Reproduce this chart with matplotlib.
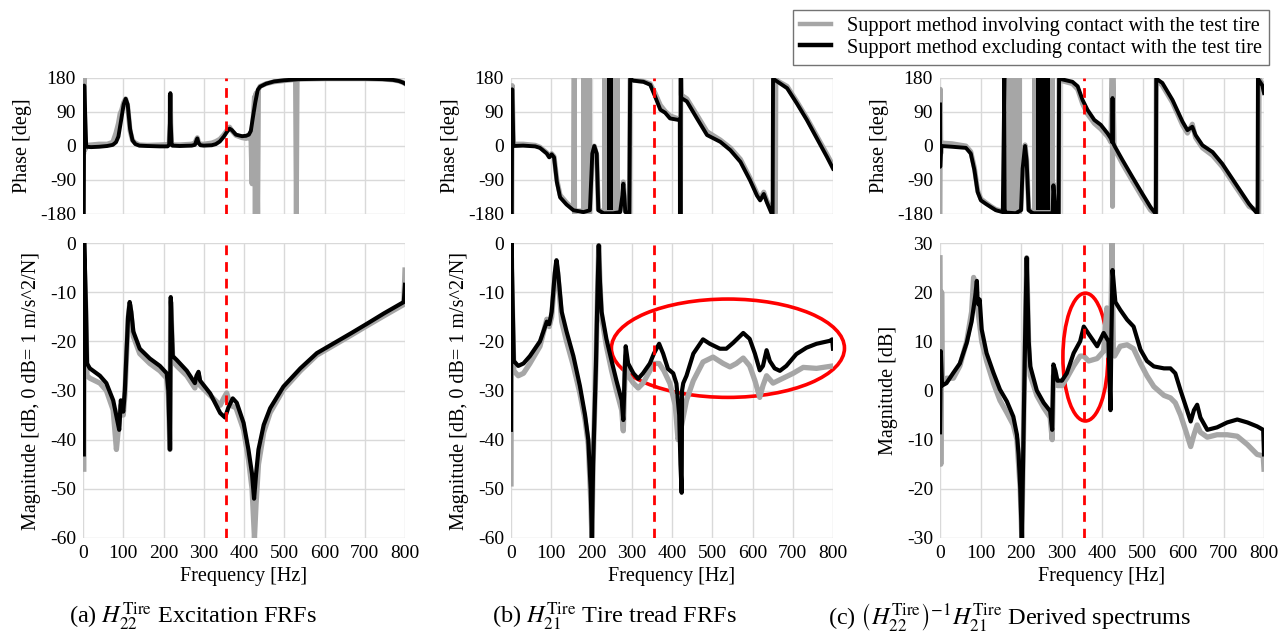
import matplotlib
matplotlib.use("Agg")
import matplotlib.pyplot as plt
from matplotlib.patches import Ellipse
from matplotlib.lines import Line2D

plt.rcParams['font.family'] = ['Liberation Serif', 'DejaVu Serif']
plt.rcParams['mathtext.fontset'] = 'stix'
plt.rcParams['axes.unicode_minus'] = False

# ---------------- (a) H22 excitation FRFs ----------------
a_phase_f_black = [0, 2, 3, 8, 20, 40, 60, 74, 82, 88, 95, 101, 106, 111, 117, 123, 130, 140, 160, 190,
                   210, 214, 216, 217, 218, 220, 222, 240, 270, 278, 282, 284, 287, 292, 300, 320, 330,
                   340, 350, 358, 364, 370, 380, 395, 405, 412, 417, 422, 428, 434, 440, 455, 475, 500,
                   540, 600, 700, 744, 770, 785, 795, 800]
a_phase_v_black = [-180, -180, 160, -2, -3, -2, 0, 3, 10, 25, 70, 110, 125, 110, 45, 15, 5, 1, 0, -1,
                   -1, 3, 60, 140, 60, 5, 1, 0, 1, 3, 15, 20, 8, 2, 1, 2, 5,
                   12, 25, 38, 46, 42, 30, 26, 27, 30, 40, 75, 115, 148, 157, 165, 171, 174,
                   177, 178, 178, 177, 175, 172, 168, 165]
a_phase_f_gray = [0, 2, 3, 5, 8, 20, 40, 60, 74, 82, 88, 92, 96, 101, 106, 111, 117, 123, 130, 140, 160,
                  190, 210, 214, 216, 217, 218, 220, 222, 240, 270, 278, 282, 284, 287, 292, 300, 320,
                  330, 340, 350, 358, 364, 370, 380, 395, 405, 412, 417, 420, 422, 426, 428, 430, 434,
                  436, 440, 455, 475, 500, 528, 530, 532, 540, 600, 700, 744, 770, 785, 795, 800]
a_phase_v_gray = [-20, -20, 180, -10, 2, 3, 5, 5, 10, 35, 60, 85, 95, 115, 125, 105, 40, 15, 8, 3, 2,
                  3, 4, 5, 60, 135, 60, 8, 3, 3, 5, 8, 18, 22, 10, 5, 5, 8,
                  12, 18, 30, 42, 50, 40, 28, 22, 20, 22, 30, -100, 60, 130, -180, 140, -180,
                  150, 158, 165, 170, 173, 176, -180, 177, 177, 178, 178, 177, 175, 172, 168, 165]

a_mag_f_black = [2, 3, 7, 10, 17, 42, 58, 75, 85, 90, 94, 100, 104, 112, 116, 120, 125, 141, 166, 191,
                 208, 212, 216, 218, 223, 233, 258, 278, 282, 287, 291, 316, 341, 353, 361, 372, 382,
                 399, 411, 420, 425, 430, 436, 449, 465, 498, 540, 581, 623, 665, 706, 748, 797, 800]
a_mag_v_black = [-43, 0, -12, -24.5, -25.5, -27, -28.5, -32, -36, -38, -32, -34.3, -30, -15, -12, -14,
                 -18, -21.5, -23.5, -25, -26.5, -30, -42, -11, -23, -23.8, -26, -28.5, -27, -26.2, -28,
                 -30.6, -34.6, -35.5, -33.5, -31.6, -32.5, -36.6, -42, -47, -52, -47, -42, -37, -33.6,
                 -29.2, -25.5, -22.4, -20.4, -18.4, -16.4, -14.3, -12, -8.5]
a_mag_f_gray = [2, 3, 7, 10, 17, 42, 58, 75, 83, 90, 94, 100, 104, 112, 116, 120, 125, 141, 166, 191,
                208, 212, 216, 218, 223, 233, 258, 278, 282, 287, 291, 316, 341, 350, 357, 366, 380,
                399, 411, 420, 426, 430, 436, 449, 465, 498, 540, 581, 623, 665, 706, 748, 797, 800]
a_mag_v_gray = [-46, -4, -14, -27, -27.5, -28.5, -30, -34, -42, -36, -33, -35, -31, -15.5, -12.5, -15,
                -19, -22.5, -24.5, -26, -27.5, -31, -42, -12, -24, -25, -27, -29.5, -27.5, -27, -29,
                -31, -33, -31.5, -30.5, -33, -33.5, -38, -44, -50, -60, -53, -45, -38.5, -34.5,
                -29.8, -26, -22.8, -20.8, -18.8, -16.8, -14.8, -12.5, -5.5]

# ---------------- (b) H21 tire tread FRFs ----------------
b_phase_f_black = [0, 2, 3, 6, 30, 60, 72, 89, 95, 101, 107, 114, 122, 138, 155, 180, 196, 202, 207, 213,
                   217, 230, 237, 254, 271, 277, 279, 282, 284, 292, 294, 296, 304, 329, 346, 358, 371,
                   383, 395, 416, 420, 421, 422, 423, 437, 462, 487, 520, 545, 570, 594, 611, 619, 628,
                   636, 648, 650, 651, 661, 686, 710, 735, 760, 785, 800]
b_phase_v_black = [-180, -180, 150, 0, 1, -1, -5, -20, -30, -22, -30, -96, -136, -155, -170, -175,
                   -170, -20, 0, -20, -170, -178, -178, -178, -175, -130, -100, -140, -175, -178, -180,
                   178, 173, 170, 162, 131, 96, 88, 73, 69, 72, -180, 180, 127, 118, 73, 29, 11, -11,
                   -42, -91, -131, -144, -127, -150, -180, -180, 178, 171, 153, 113, 69, 20, -29, -60]
b_phase_f_gray = [0, 2, 3, 6, 30, 60, 72, 89, 95, 101, 107, 114, 122, 138, 155, 157, 158, 159, 180, 196,
                  202, 207, 213, 217, 230, 237, 254, 271, 277, 279, 282, 284, 292, 294, 296, 304, 329,
                  346, 358, 371, 383, 395, 416, 420, 421, 422, 423, 437, 462, 487, 520, 545, 570, 594,
                  611, 619, 628, 636, 648, 654, 657, 658, 661, 686, 710, 735, 760, 785, 800]
b_phase_v_gray = [-180, -180, 160, 5, 5, 2, -3, -18, -28, -20, -28, -90, -130, -150, -168, 180, -180,
                  -172, -172, -168, -25, 0, -25, -168, -176, -176, -176, -173, -125, -95, -135, -172,
                  -176, -178, 178, 174, 171, 165, 140, 108, 92, 80, 72, 75, -180, 180, 135, 125, 82, 38,
                  16, -5, -35, -85, -125, -140, -122, -145, -170, -178, -178, 178, 173, 158, 118, 74,
                  26, -22, -52]
b_phase_bands_black = [(238, 253)]
b_phase_bands_gray = [(173, 201), (226, 271)]

b_mag_f_black = [0, 1, 4, 7, 18, 31, 47, 72, 89, 95, 101, 109, 113, 117, 126, 138, 155, 171, 184, 192,
                 198, 201, 204, 211, 215, 218, 221, 225, 237, 250, 262, 275, 279, 283, 285, 291, 304,
                 316, 328, 345, 355, 368, 378, 390, 403, 411, 418, 421, 424, 425, 428, 436, 453, 477,
                 494, 519, 535, 552, 577, 593, 606, 618, 626, 635, 643, 655, 668, 684, 709, 734, 759,
                 792, 798, 800]
b_mag_v_black = [-38, 0, -12, -24, -25, -24.5, -23, -20, -16, -16.5, -14, -6, -3.5, -6, -14, -18, -23,
                 -29, -35, -40, -50, -60, -45, -25, -10, -0.5, -8, -14, -19.5, -24, -28, -32, -36, -25,
                 -21, -24.5, -26.5, -27.6, -26.5, -24.5, -22.5, -20.5, -22.5, -25.6, -26.5, -28.6, -35,
                 -45, -50.8, -30, -28.5, -27, -22.5, -19.6, -20.5, -21.5, -21.5, -20.3, -18.3, -19.5,
                 -22.5, -25.9, -25, -21.8, -24, -25.5, -26, -25, -22.6, -21.3, -20.5, -19.9, -19.6, -21.5]
b_mag_f_gray = [0, 1, 4, 7, 18, 31, 47, 72, 89, 95, 101, 109, 113, 117, 126, 138, 155, 171, 184, 192,
                198, 201, 204, 211, 215, 218, 221, 225, 237, 250, 262, 275, 279, 283, 285, 291, 304,
                316, 328, 345, 355, 368, 380, 395, 408, 415, 424, 436, 453, 477, 502, 527, 544, 560,
                577, 593, 606, 618, 626, 635, 651, 676, 701, 726, 759, 800]
b_mag_v_gray = [-49, -3, -15, -26, -27, -26.5, -24.5, -21, -15.5, -17, -15, -7, -4, -7, -16, -20, -25,
                -30.5, -36, -41, -52, -60, -45, -25, -10, -0.5, -8, -15, -21, -26, -30, -34, -38.2, -27,
                -23, -27, -28.5, -29.5, -28.5, -26, -24.5, -24.5, -26, -28.6, -33, -40, -37, -32, -28,
                -24.2, -23.2, -24.5, -25.2, -24.5, -23.4, -25, -28, -31.4, -29, -27, -28.5, -27.5,
                -26.5, -25.3, -25.5, -25]

# ---------------- (c) derived spectrums ----------------
c_phase_f_black = [0, 0.5, 3, 30, 64, 76, 85, 93, 101, 113, 126, 138, 155, 159, 160, 161, 187, 200, 204,
                   210, 214, 219, 229, 234, 278, 280, 286, 293, 294, 303, 327, 340, 352, 364, 381, 397,
                   414, 422, 425, 426, 427, 430, 451, 475, 500, 520, 533, 534, 549, 574, 599, 611, 623,
                   631, 648, 673, 697, 730, 763, 784, 785, 796, 800]
c_phase_v_black = [110, -55, 0, -2, -5, -20, -64, -122, -144, -153, -162, -170, -175, 180, -180, -176,
                   -178, -170, -60, 0, -40, -170, -178, -178, -178, -104, -178, -180, 178, 176, 170,
                   158, 122, 96, 69, 56, 33, 20, 10, 127, 10, 2, -38, -82, -127, -162, -180, 178, 167,
                   122, 64, 42, 51, 29, 2, -16, -47, -100, -153, -180, 178, 160, 140]
c_phase_f_gray = [0, 1, 2, 3, 30, 64, 76, 85, 93, 101, 113, 126, 138, 155, 187, 200, 204, 210, 214, 219,
                  229, 278, 280, 286, 293, 294, 303, 327, 340, 352, 364, 381, 397, 414, 422, 425, 426,
                  427, 430, 451, 475, 500, 520, 533, 534, 549, 574, 599, 611, 623, 631, 648, 673, 697,
                  730, 763, 784, 787, 788, 796, 800]
c_phase_v_gray = [-180, 150, -20, 8, 6, 0, -15, -58, -118, -140, -150, -160, -168, -173, -176, -168,
                  -55, 3, -35, -168, -176, -176, -100, -176, -178, 178, 172, 165, 150, 112, 85, 60, 45,
                  25, 10, 180, -160, 180, -5, -48, -92, -137, -170, -180, 178, 160, 115, 55, 34, 58, 22,
                  -5, -25, -55, -108, -160, -172, -180, 178, 165, 148]
c_phase_bands_black = [(238, 272)]
c_phase_bands_gray = [(166, 203), (228, 284)]

c_mag_f_black = [0, 2, 5, 16, 33, 49, 66, 78, 87, 91, 93, 95, 98, 103, 115, 132, 148, 165, 181, 190, 194,
                 198, 202, 206, 210, 214, 219, 223, 239, 256, 272, 277, 280, 285, 290, 301, 313, 330,
                 346, 355, 367, 388, 404, 416, 421, 423, 426, 433, 445, 462, 478, 495, 511, 528, 553,
                 569, 581, 594, 606, 619, 627, 635, 643, 660, 684, 709, 734, 759, 783, 798, 800]
c_mag_v_black = [-8.5, 8, 1, 1.5, 3.6, 5.5, 9.7, 14, 19.2, 22.3, 18, 17.5, 18.5, 12.4, 7.6, 3.6, 0.2,
                 -2.2, -5.3, -9, -13, -19.5, -30, -10, 10, 27, 10, 4.9, 0, -2.5, -4.2, -8, 5.3, 4, 2,
                 2, 3.5, 7.6, 10, 13, 11.5, 9, 11.7, 10, -4, 10, 24.5, 18, 16.4, 14.4, 13, 8.3, 6, 4.9,
                 4.5, 4.5, 3.5, 0, -3, -6.3, -4, -2.9, -5.5, -8, -7.5, -6.5, -5.9, -6.5, -7.3, -8, -13]
c_mag_f_gray = [0, 2, 4, 6, 16, 33, 49, 66, 78, 83, 91, 103, 115, 132, 148, 165, 181, 190, 198, 202, 206,
                210, 214, 219, 223, 239, 256, 272, 277, 280, 290, 301, 313, 330, 346, 355, 367, 388,
                404, 412, 416, 421, 425, 428, 431, 445, 462, 478, 495, 511, 528, 553, 569, 581, 594,
                606, 619, 627, 635, 643, 660, 684, 709, 734, 759, 783, 798, 800]
c_mag_v_gray = [27, -15, 20, 2, 2.5, 2.5, 5, 10, 16, 23, 18, 10, 6, 1.5, -2, -4.5, -7, -10, -20, -30,
                -10, 10, 27, 9, 3, -1, -3.5, -5.5, -10, 3, 1, 1, 2.5, 5, 7, 7, 6, 6.5, 8, 16.8, 7, 8,
                30, 8, 7, 9, 9.3, 8.5, 5.5, 3, 0.8, -1, -1.5, -2.5, -5, -8, -11.4, -9, -7, -8.5, -9.5,
                -9, -9, -9.3, -11, -13, -13.3, -16]

marker_freq = 355
ylabels = ["Magnitude [dB, 0 dB= 1 m/s^2/N]", "Magnitude [dB, 0 dB= 1 m/s^2/N]", "Magnitude [dB]"]
mag_limits = [(-60, 0), (-60, 0), (-30, 30)]
mag_ticks = [list(range(-60, 1, 10)), list(range(-60, 1, 10)), list(range(-30, 31, 10))]
captions = [r"(a) $H_{22}^{\mathrm{Tire}}$ Excitation FRFs",
            r"(b) $H_{21}^{\mathrm{Tire}}$ Tire tread FRFs",
            r"(c) $\left(H_{22}^{\mathrm{Tire}}\right)^{-1}H_{21}^{\mathrm{Tire}}$ Derived spectrums"]
caption_centers = [193, 614, 1010]
legend_labels = ["Support method involving contact with the test tire",
                 "Support method excluding contact with the test tire"]

GRAY = "#a6a6a6"
BLACK = "#000000"
GRID = "#d9d9d9"
W, H = 1279, 635

fig = plt.figure(figsize=(W / 100, H / 100), dpi=100)


def rect(x0, x1, y0, y1):
    return [x0 / W, 1 - y1 / H, (x1 - x0) / W, (y1 - y0) / H]


panel_x = [(83, 405), (511, 833), (940, 1264)]
phase_data = [
    (a_phase_f_gray, a_phase_v_gray, a_phase_f_black, a_phase_v_black, [], []),
    (b_phase_f_gray, b_phase_v_gray, b_phase_f_black, b_phase_v_black, b_phase_bands_gray, b_phase_bands_black),
    (c_phase_f_gray, c_phase_v_gray, c_phase_f_black, c_phase_v_black, c_phase_bands_gray, c_phase_bands_black),
]
mag_data = [
    (a_mag_f_gray, a_mag_v_gray, a_mag_f_black, a_mag_v_black),
    (b_mag_f_gray, b_mag_v_gray, b_mag_f_black, b_mag_v_black),
    (c_mag_f_gray, c_mag_v_gray, c_mag_f_black, c_mag_v_black),
]


def style(ax):
    for s in ax.spines.values():
        s.set_visible(False)
    ax.grid(True, color=GRID, lw=1.0)
    ax.set_axisbelow(True)
    ax.tick_params(length=0, labelsize=14, pad=5)
    ax.set_xlim(0, 800)
    ax.set_xticks(range(0, 801, 100))


for i, (x0, x1) in enumerate(panel_x):
    # phase
    axp = fig.add_axes(rect(x0, x1, 78, 214))
    style(axp)
    fg, vg, fb, vb, bands_g, bands_b = phase_data[i]
    for lo, hi in bands_g:
        axp.fill_between([lo, hi], -180, 180, color=GRAY, lw=0)
    axp.plot(fg, vg, color=GRAY, lw=3.6, solid_joinstyle='round')
    for lo, hi in bands_b:
        axp.fill_between([lo, hi], -180, 180, color=BLACK, lw=0)
    axp.plot(fb, vb, color=BLACK, lw=2.8, solid_joinstyle='round')
    axp.axvline(marker_freq, color='red', lw=2.0, ls=(0, (3.5, 2.5)))
    axp.set_ylim(-180, 180)
    axp.set_yticks([-180, -90, 0, 90, 180])
    axp.set_xticklabels([])
    axp.set_ylabel("Phase [deg]", fontsize=14.5, labelpad=6)

    # magnitude
    axm = fig.add_axes(rect(x0, x1, 243, 538))
    style(axm)
    fg, vg, fb, vb = mag_data[i]
    axm.plot(fg, vg, color=GRAY, lw=3.8, solid_joinstyle='round')
    axm.plot(fb, vb, color=BLACK, lw=3.0, solid_joinstyle='round')
    axm.axvline(marker_freq, color='red', lw=2.0, ls=(0, (3.5, 2.5)))
    axm.set_ylim(*mag_limits[i])
    axm.set_yticks(mag_ticks[i])
    axm.set_ylabel(ylabels[i], fontsize=14.5, labelpad=6)
    axm.set_xlabel("Frequency [Hz]", fontsize=14.5, labelpad=4)
    if i == 1:
        axm.add_patch(Ellipse((539, -21.4), 579, 20, fill=False, ec='red', lw=2.6, clip_on=False))
    if i == 2:
        axm.add_patch(Ellipse((359, 6.8), 111, 26, fill=False, ec='red', lw=2.6, clip_on=False))

    fig.text(caption_centers[i] / W, 1 - 617 / H, captions[i], ha='center', va='center', fontsize=17.5)

handles = [Line2D([], [], color=GRAY, lw=3.2), Line2D([], [], color=BLACK, lw=3.2)]
leg = fig.legend(handles, legend_labels, loc='upper right', bbox_to_anchor=(1269 / W, 1 - 10 / H),
                 fontsize=14.6, frameon=True, fancybox=False, edgecolor='#505050', handlelength=1.5,
                 borderpad=0.35, labelspacing=0.1, handletextpad=0.8, borderaxespad=0)
leg.get_frame().set_linewidth(1.0)

fig.savefig("out.png", dpi=100)
